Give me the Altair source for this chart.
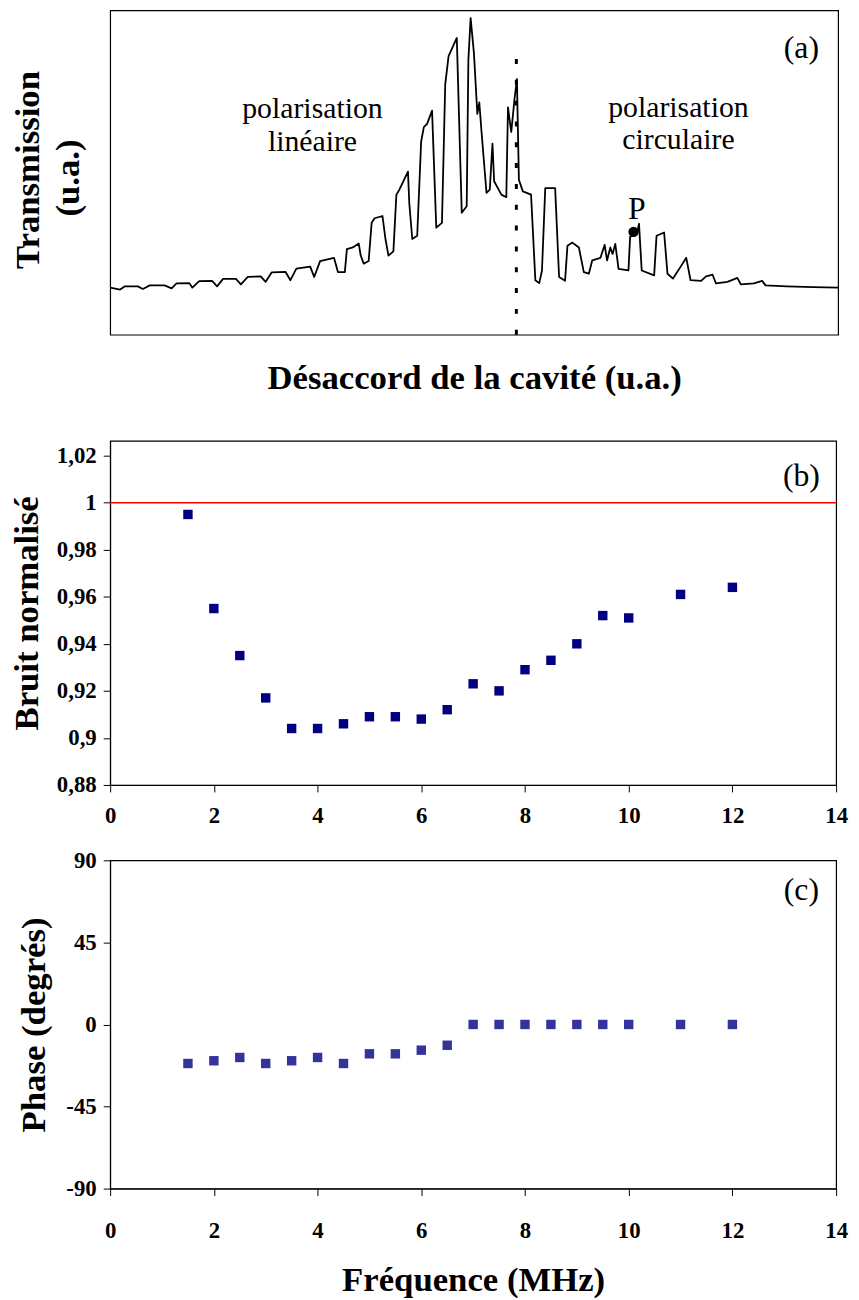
import altair as alt
import pandas as pd

SERIF = "Liberation Serif"

# ---------- Panel (a): cavity transmission vs detuning (arbitrary units) ----------
detuning = [0.0, 1.36, 2.04, 3.81, 4.49, 5.44, 7.48, 8.44, 9.12, 10.88, 11.29, 12.24,
            14.01, 14.69, 15.51, 17.28, 17.96, 18.91, 20.68, 21.36, 22.18, 24.08, 24.76,
            25.58, 27.48, 28.03, 28.84, 30.75, 31.29, 32.24, 32.52, 33.33, 34.15, 34.42,
            34.83, 35.51, 35.92, 36.33, 37.41, 37.82, 38.23, 38.91, 39.32, 39.73, 40.91,
            41.09, 41.50, 42.18, 42.72, 43.09, 43.54, 44.22, 44.80, 45.58, 46.03, 46.49,
            47.62, 48.30, 48.98, 49.21, 49.52, 49.97, 50.44, 50.71, 51.02, 51.70, 52.15,
            52.52, 52.75, 53.74, 54.42, 54.65, 55.10, 55.55, 55.88, 56.15, 56.69, 57.82,
            58.41, 58.95, 59.32, 59.77, 61.13, 61.67, 62.49, 62.82, 63.50, 64.39, 65.07,
            65.76, 66.22, 67.35, 67.93, 68.26, 68.71, 69.02, 69.39, 69.84, 71.20, 71.43,
            72.34, 72.65, 73.02, 74.73, 75.06, 76.10, 76.56, 77.32, 78.46, 79.14, 79.73,
            81.18, 81.86, 82.76, 83.22, 84.80, 86.16, 86.63, 88.44, 89.56, 90.03, 92.97,
            96.60, 100.0]
transmission = [14.5, 13.9, 14.9, 14.9, 14.1, 15.2, 15.2, 14.3, 15.8, 15.9, 14.5, 16.5,
                16.6, 14.9, 17.2, 17.2, 15.5, 17.8, 18.0, 16.3, 19.2, 19.4, 16.8,
                20.4, 21.0, 17.8, 22.7, 23.7, 19.3, 19.3, 26.4, 26.9, 28.1, 24.4,
                21.9, 22.7, 34.5, 35.9, 36.6, 29.5, 24.4, 25.7, 43.2, 44.7, 50.3,
                40.6, 29.5, 30.5, 59.5, 64.0, 65.0, 69.1, 33.0, 34.5, 77.2, 85.9,
                91.5, 37.6, 39.6, 84.8, 97.6, 86.9, 68.1, 71.6, 62.5, 43.7, 44.7,
                58.9, 47.3, 43.2, 42.4, 70.1, 62.5, 72.7, 78.8, 47.8, 44.2, 43.2,
                16.8, 15.9, 19.8, 45.2, 45.2, 17.8, 16.6, 27.4, 28.4, 26.9, 19.3,
                18.8, 22.9, 23.7, 27.7, 22.9, 26.9, 24.9, 28.0, 20.3, 19.8, 30.2,
                31.0, 34.2, 19.8, 18.3, 30.5, 31.5, 18.8, 17.3, 21.3, 23.7, 16.8,
                16.6, 18.0, 18.5, 15.8, 16.3, 17.5, 15.5, 15.8, 16.6, 15.2, 14.9,
                14.7, 14.5]
point_p_detuning = [71.9]
point_p_transmission = [31.7]
switch_detuning = [55.8]
switch_top = [86.9]

# ---------- Panels (b) and (c) ----------
frequency = [1.5, 2, 2.5, 3, 3.5, 4, 4.5, 5, 5.5, 6, 6.5, 7, 7.5, 8, 8.5, 9, 9.5, 10, 11, 12]
noise = [0.995, 0.955, 0.935, 0.917, 0.904, 0.904, 0.906, 0.909, 0.909, 0.908, 0.912,
         0.923, 0.920, 0.929, 0.933, 0.940, 0.952, 0.951, 0.961, 0.964]
phase = [-21.4, -19.9, -18.1, -21.4, -19.9, -18.1, -21.4, -16.1, -16.1, -14.1, -11.4,
         0, 0, 0, 0, 0, 0, 0, 0, 0]
shot_noise = [1.0]
freq_ticks = [0, 2, 4, 6, 8, 10, 12, 14]
noise_ticks = [0.88, 0.90, 0.92, 0.94, 0.96, 0.98, 1.00, 1.02]
phase_ticks = [-90, -45, 0, 45, 90]

title_kw = dict(titleFont=SERIF, titleFontSize=35, titleFontWeight="bold", titleColor="black")


def label(txt, x, y, size=30, align="center", baseline="middle", lh=None, bold=False, angle=None):
    kw = dict(font=SERIF, fontSize=size, color="black", align=align, baseline=baseline)
    if lh is not None:
        kw["lineBreak"] = "\n"
        kw["lineHeight"] = lh
    if bold:
        kw["fontWeight"] = "bold"
    if angle is not None:
        kw["angle"] = angle
    return alt.Chart(pd.DataFrame({"s": [txt]})).mark_text(**kw).encode(
        x=alt.value(x), y=alt.value(y), text="s:N")


def spacer(y0, y1):
    # invisible mark reserving vertical room below a panel
    return alt.Chart(pd.DataFrame({"s": [0]})).mark_rule(color="white", opacity=0).encode(
        x=alt.value(0), y=alt.value(y0), y2=alt.value(y1))


# ======================= Panel (a) =======================
trace_df = pd.DataFrame({"d": detuning, "t": transmission, "i": list(range(len(detuning)))})
p_df = pd.DataFrame({"d": point_p_detuning, "t": point_p_transmission})
sw_df = pd.DataFrame({"d": switch_detuning, "t": [0.0], "t2": switch_top})

xa = alt.X("d:Q", scale=alt.Scale(domain=[0, 100], nice=False, zero=False),
           axis=alt.Axis(title="Désaccord de la cavité (u.a.)", labels=False, ticks=False,
                         domain=False, grid=False, titlePadding=26, **title_kw))
ya = alt.Y("t:Q", scale=alt.Scale(domain=[0, 100], nice=False),
           axis=alt.Axis(title=None, labels=False, ticks=False, domain=False, grid=False))

trace = alt.Chart(trace_df).mark_line(color="black", strokeWidth=1.8, strokeJoin="round").encode(
    x=xa, y=ya, order="i:Q")
switch = alt.Chart(sw_df).mark_rule(color="black", strokeWidth=3, strokeDash=[5, 16]).encode(
    x=xa, y=ya, y2="t2:Q")
pdot = alt.Chart(p_df).mark_circle(size=110, color="black", opacity=1).encode(x=xa, y=ya)

panel_a = alt.layer(
    trace, switch, pdot, spacer(380, 412),
    label("Transmission", -72, 161, size=35, baseline="alphabetic", bold=True, angle=270),
    label("(u.a.)", -31, 169, size=35, baseline="alphabetic", bold=True, angle=270),
    label("polarisation\nlinéaire", 204, 109, baseline="alphabetic", lh=33),
    label("polarisation\ncirculaire", 573, 107, baseline="alphabetic", lh=33),
    label("P", 531, 210, size=32, baseline="alphabetic"),
    label("(a)", 697, 38, size=32),
).properties(width=734, height=327)

# ======================= Panel (b) =======================
lab_kw = dict(labelFont=SERIF, labelFontSize=23, labelFontWeight="bold", labelColor="black",
              tickSize=7, tickColor="black", domainColor="black", grid=False,
              labelFlush=False, labelOverlap=False)

b_df = pd.DataFrame({"f": frequency, "n": noise})
xb = alt.X("f:Q", scale=alt.Scale(domain=[0, 14], nice=False, zero=False),
           axis=alt.Axis(values=freq_ticks, title=None, labelPadding=13, **lab_kw))
yb = alt.Y("n:Q", scale=alt.Scale(domain=[0.88, 1.0263], nice=False, zero=False),
           axis=alt.Axis(values=noise_ticks, title="Bruit normalisé", titlePadding=12,
                         labelPadding=7,
                         labelExpr="replace('' + datum.value, '.', ',')",
                         **lab_kw, **title_kw))
b_pts = alt.Chart(b_df).mark_square(size=90, color="#000080", opacity=1).encode(x=xb, y=yb)
b_rule = alt.Chart(pd.DataFrame({"n": shot_noise})).mark_rule(color="#ff0000", strokeWidth=1.6).encode(y=yb)
panel_b = alt.layer(b_rule, b_pts, spacer(360, 388), label("(b)", 697, 36, size=32)).properties(
    width=732, height=347)

# ======================= Panel (c) =======================
c_df = pd.DataFrame({"f": frequency, "p": phase})
xc = alt.X("f:Q", scale=alt.Scale(domain=[0, 14], nice=False, zero=False),
           axis=alt.Axis(values=freq_ticks, title="Fréquence (MHz)", labelPadding=24,
                         titlePadding=21, **lab_kw, **title_kw))
yc = alt.Y("p:Q", scale=alt.Scale(domain=[-90, 90], nice=False),
           axis=alt.Axis(values=phase_ticks, title="Phase (degrés)", titlePadding=15,
                         labelPadding=7, labelExpr="'' + datum.value",
                         **lab_kw, **title_kw))
c_pts = alt.Chart(c_df).mark_square(size=90, color="#333399", opacity=1).encode(x=xc, y=yc)
panel_c = alt.layer(c_pts, label("(c)", 697, 30, size=32)).properties(width=732, height=331)

PAD = {"left": 1, "top": -4, "right": 2, "bottom": 6}
chart = alt.vconcat(panel_a, panel_b, panel_c, spacing=20).properties(
    padding=PAD
).configure(background="white", padding=PAD).configure_view(stroke="black", strokeWidth=1.2)

chart.save("out.html", embed_options={"renderer": "svg", "actions": False})
